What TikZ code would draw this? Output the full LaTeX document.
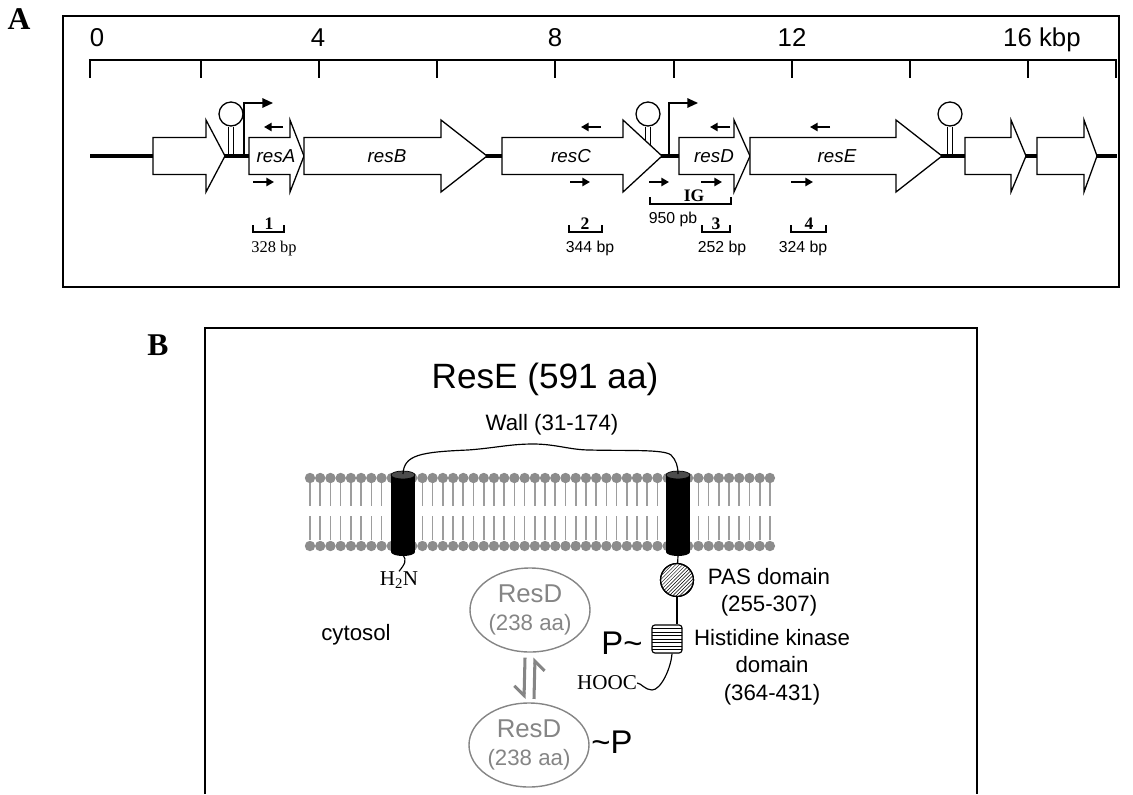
\documentclass[tikz,border=0pt]{standalone}
\usepackage{fontspec}
\setmainfont{Liberation Sans}
\newfontfamily\tms{Liberation Serif}
\usetikzlibrary{arrows.meta,patterns,shapes.geometric}

\definecolor{lipid}{HTML}{8C8C8C}
\definecolor{resdgray}{HTML}{858585}

% gene arrow: body left, head start, tip
\newcommand{\genearrow}[3]{%
  \draw[gene] (#1,137.5) -- (#2,137.5) -- (#2,120) -- (#3,156) -- (#2,192) -- (#2,174.5) -- (#1,174.5) -- cycle;}

\begin{document}
\begin{tikzpicture}[x=0.3mm, y=-0.3mm,
  every node/.style={inner sep=0pt},
  frame/.style={line width=1.6pt},
  ruler/.style={line width=2.4pt},
  backbone/.style={line width=2.6pt},
  gene/.style={draw, fill=white, line width=1.1pt, line join=miter},
  genelbl/.style={anchor=base, font=\fontsize{16}{19}\selectfont\itshape},
  scalelbl/.style={anchor=base, font=\fontsize{22}{26}\selectfont},
  hairpin/.style={circle, draw, fill=white, line width=1.1pt, minimum size=7.2mm},
  stem/.style={line width=1.1pt},
  promoter/.style={line width=1.3pt, -{Triangle[length=9pt,width=8pt]}},
  primer/.style={line width=1.6pt, -{Triangle[length=6.5pt,width=7pt]}},
  bracket/.style={line width=2.2pt},
  numlbl/.style={anchor=base, font=\fontsize{15}{18}\selectfont\tms\bfseries},
  bplbl/.style={anchor=base, font=\fontsize{13.5}{16}\selectfont},
  panel/.style={font=\fontsize{27}{30}\selectfont\tms\bfseries},
  txt/.style={font=\fontsize{19}{23.5}\selectfont, align=center},
  lipidtail/.style={draw=lipid!85, line width=1.4pt},
  resd/.style={ellipse, draw=resdgray, line width=1.2pt, text=resdgray, minimum width=36mm, minimum height=25.2mm, align=center, font=\fontsize{22}{24.5}\selectfont},
  eq/.style={draw=resdgray, line width=2.6pt, -{Straight Barb[right,length=8pt,width=17pt]}}
]
\useasboundingbox (0,0) rectangle (1133,794);

% ---------- panel A ----------
\node[panel] (labA) at (19,19) {A};
\draw[frame] (63,16) rectangle (1119,287);

\draw[ruler] (88.8,60) -- (1117.2,60);
\foreach \x in {90,201,319,437,555,674,792,910,1028,1116}
  \draw[ruler] (\x,59) -- (\x,78);
\foreach \x/\t in {97/0,318/4,555/8,792/12}
  \node[scalelbl] (s\t) at (\x,46) {\t};
\node[scalelbl, anchor=base west] (s16) at (1003,46) {16 kbp};

\draw[backbone] (90,156) -- (1117,156);

% terminators and promoters
\node[hairpin] (t1) at (231,114) {};
\node[hairpin] (t2) at (648,114) {};
\node[hairpin] (t3) at (950,114) {};
\foreach \t in {t1,t2,t3}
  \draw[stem] ([xshift=-0.8mm]\t.south) -- ++(0,30) ([xshift=0.8mm]\t.south) -- ++(0,30);
\draw[promoter] (244,156) -- (244,103) -- (273,103);
\draw[promoter] (669,156) -- (669,103) -- (698,103);

\genearrow{153}{206}{225}
\genearrow{249}{290}{304}
\genearrow{304}{441}{487}
\genearrow{502}{623}{662}
\genearrow{679}{734}{750}
\genearrow{750}{896}{942}
\genearrow{965}{1011}{1026}
\genearrow{1037}{1084}{1097}

\node[genelbl] (resA) at (276,162) {resA};
\node[genelbl] (resB) at (387,162) {resB};
\node[genelbl] (resC) at (571,162) {resC};
\node[genelbl] (resD) at (714,162) {resD};
\node[genelbl] (resE) at (837,162) {resE};

% primers
\foreach \a/\b in {283/264,601/581,730/710,830/810}
  \draw[primer] (\a,127) -- (\b,127);
\foreach \a/\b in {253/274,570/590,649/669,701/722,791/813}
  \draw[primer] (\a,182) -- (\b,182);

% amplicons
\draw[bracket] (650,197) -- (650,204) -- (731,204) -- (731,197);
\node[numlbl] (ig) at (694,201.5) {IG};
\node[bplbl] (bpig) at (673,223) {950 pb};
\foreach \a/\b in {253/284,569/602,702/730,791/826}
  \draw[bracket] (\a,225) -- (\a,232) -- (\b,232) -- (\b,225);
\foreach \x/\n in {269/1,585/2,716/3,809/4}
  \node[numlbl] (n\n) at (\x,229) {\n};
\node[bplbl, font=\fontsize{14}{16}\selectfont\tms] (bp1) at (274,252) {328 bp};
\node[bplbl] (bp2) at (590,252) {344 bp};
\node[bplbl] (bp3) at (722,252) {252 bp};
\node[bplbl] (bp4) at (803,252) {324 bp};

% ---------- panel B ----------
\node[panel] (labB) at (158,345) {B};
\draw[frame] (205,794) -- (205,328) -- (977,328) -- (977,794);

\node[font=\fontsize{30}{34}\selectfont, anchor=base] (title) at (545,388) {ResE (591 aa)};
\node[font=\fontsize{19}{22}\selectfont, anchor=base] (wall) at (552,430) {Wall (31-174)};

% membrane
\foreach \x in {310,320.22,...,771} {
  \draw[lipidtail] (\x,483) -- (\x,506) (\x,516) -- (\x,540);
  \fill[lipid] (\x,478) circle (5.2);
  \fill[lipid] (\x,546) circle (5.2);
}

% transmembrane helices
\foreach \x/\n in {403/L,678/R} {
  \fill (\x-12,475) rectangle (\x+12,552);
  \fill (\x,552) ellipse (12 and 4);
  \draw[fill=black!70, line width=0.6pt] (\x,475) ellipse (12 and 4);
  \coordinate (tm\n top) at (\x,474);
  \coordinate (tm\n bot) at (\x,555);
}

\draw[line width=1pt] (tmLtop) .. controls (404,455) and (420,452) .. (468,450)
  .. controls (495,448) and (510,444) .. (533,444)
  .. controls (556,444) and (570,450) .. (590,450)
  .. controls (625,451) and (664,449) .. (671,455)
  .. controls (676,460) and (678,466) .. (tmRtop);

\node[font=\fontsize{18}{20}\selectfont\tms] (h2n) at (399,580) {H\textsubscript{2}N};
\draw[line width=1pt] (tmLbot) .. controls (407,560) and (405,564) .. (h2n.north);

\node[circle, draw, line width=1pt, fill=white, minimum size=9.9mm] (pasbg) at (677,580) {};
\node[circle, draw, line width=1pt, pattern=north east lines, minimum size=9.9mm] (pas) at (677,580) {};
\draw[line width=1pt] (tmRbot) -- (pas);
\node[rectangle, rounded corners=2.5pt, draw, line width=1pt, pattern=horizontal lines, minimum width=9mm, minimum height=8.4mm] (hk) at (667,639) {};
\draw[line width=1pt] (pas) -- (pas |- hk.north);
\node[font=\fontsize{18}{20}\selectfont\tms] (hooc) at (607,683) {HOOC};
\draw[line width=1pt] ([xshift=1.5mm]hk.south) .. controls (671,668) and (661,690) .. (652,690)
  .. controls (645,690) and (641,683) .. (hooc.east);
\node[font=\fontsize{28}{30}\selectfont] (pk1) at (622,643) {P\textasciitilde};

\node[txt] (paslbl) at (769,592) {PAS domain\\(255-307)};
\node[txt] (hklbl) at (772,667) {Histidine kinase\\domain\\(364-431)};
\node[txt] (cyto) at (356,635) {cytosol};

\node[resd] (resd1) at (530,610) {ResD\\{\fontsize{19}{22}\selectfont (238 aa)}};
\node[resd] (resd2) at (529,745) {ResD\\{\fontsize{19}{22}\selectfont (238 aa)}};
\node[font=\fontsize{28}{30}\selectfont] (pk2) at (612,742) {\textasciitilde P};

\draw[eq] ([xshift=-1.5mm,yshift=-1.5mm]resd1.south) -- ([xshift=-1.5mm,yshift=1mm]resd2.north);
\draw[eq] ([xshift=1.5mm,yshift=1mm]resd2.north) -- ([xshift=1.5mm,yshift=-1.5mm]resd1.south);
\end{tikzpicture}
\end{document}
